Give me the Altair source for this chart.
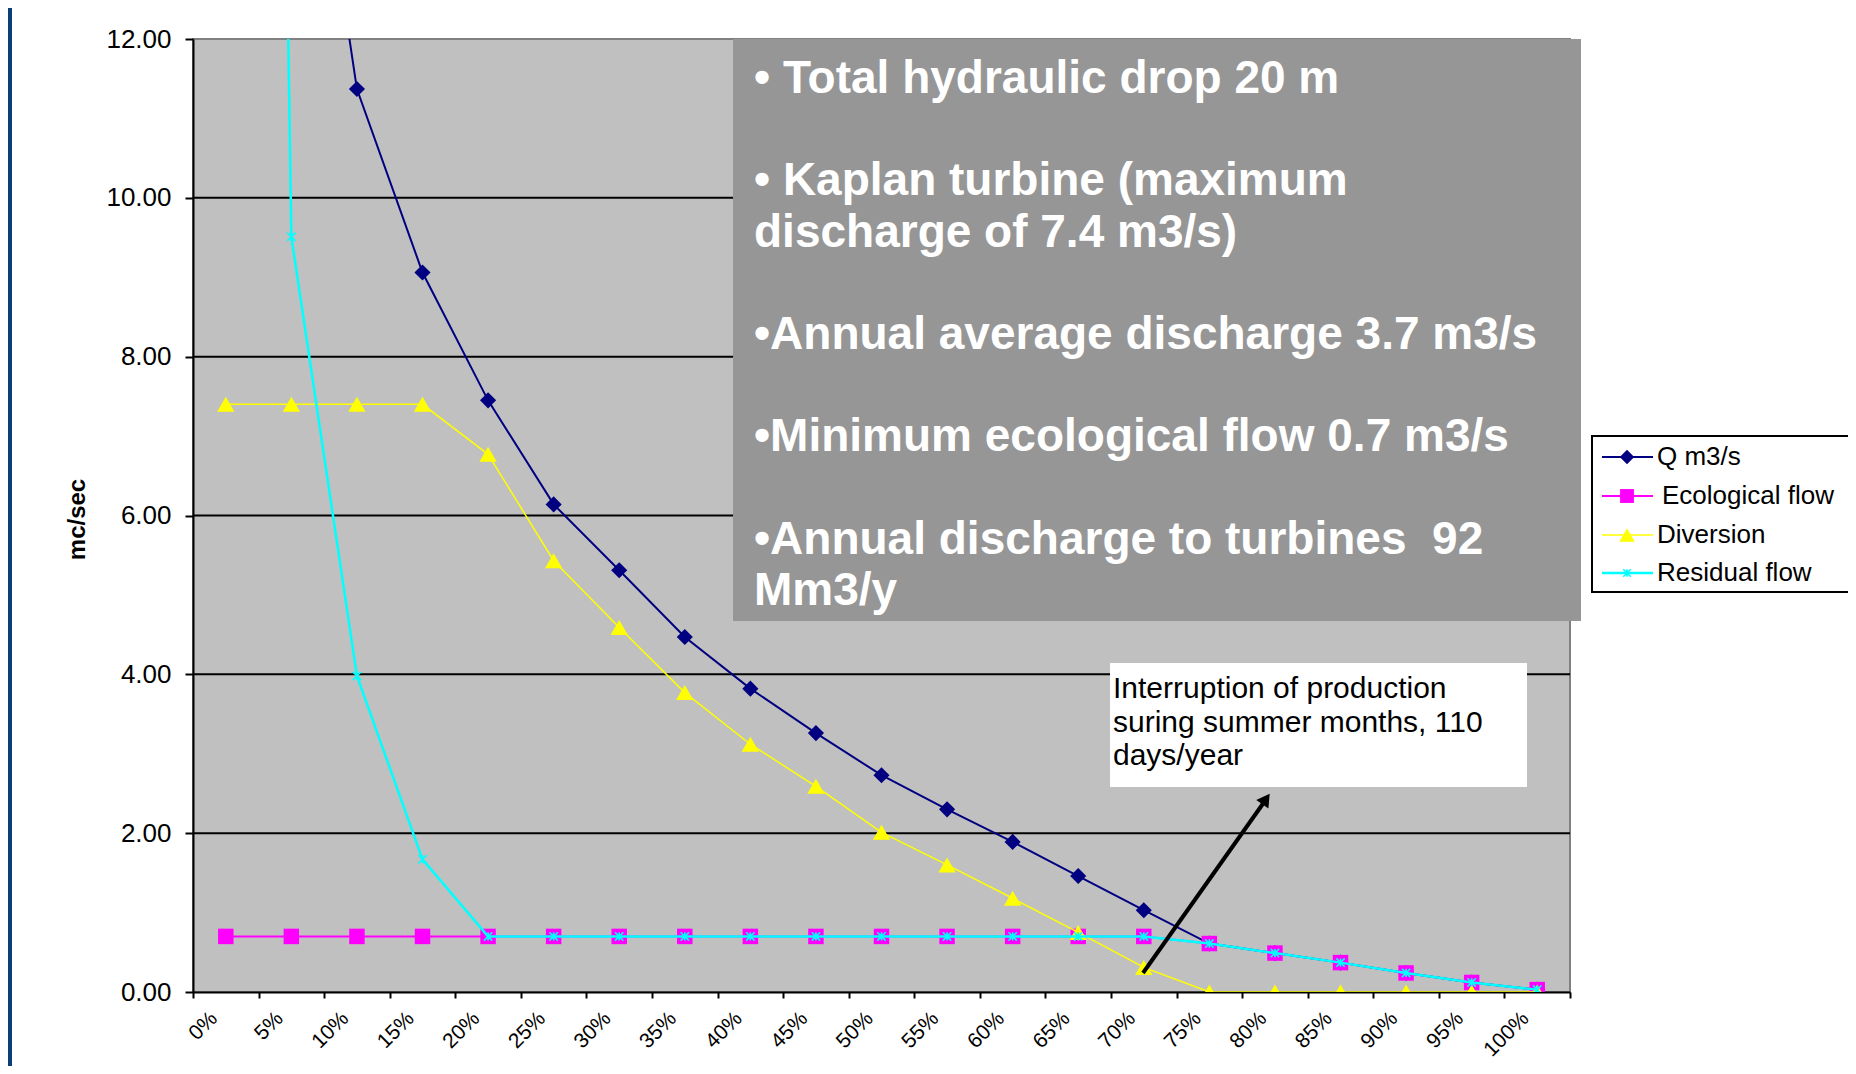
import altair as alt
import pandas as pd

# ---------------- data ----------------
categories = ["0%", "5%", "10%", "15%", "20%", "25%", "30%", "35%", "40%", "45%", "50%",
              "55%", "60%", "65%", "70%", "75%", "80%", "85%", "90%", "95%", "100%"]
q_flow = [70.0, 16.9, 11.37, 9.06, 7.45, 6.14, 5.31, 4.47, 3.82, 3.26, 2.73,
          2.30, 1.89, 1.46, 1.03, 0.61, 0.49, 0.37, 0.24, 0.12, 0.03]
ecological_flow = [0.7, 0.7, 0.7, 0.7, 0.7, 0.7, 0.7, 0.7, 0.7, 0.7, 0.7,
                   0.7, 0.7, 0.7, 0.7, 0.61, 0.49, 0.37, 0.24, 0.12, 0.03]
diversion = [7.4, 7.4, 7.4, 7.4, 6.77, 5.43, 4.59, 3.77, 3.12, 2.59, 2.01,
             1.60, 1.18, 0.75, 0.31, 0.0, 0.0, 0.0, 0.0, 0.0, 0.0]
residual_flow = [62.6, 9.51, 3.98, 1.67, 0.7, 0.7, 0.7, 0.7, 0.7, 0.7, 0.7,
                 0.7, 0.7, 0.7, 0.7, 0.61, 0.49, 0.37, 0.24, 0.12, 0.03]
series_names = ["Q m3/s", "Ecological flow", "Diversion", "Residual flow"]
y_ticks = [0, 2, 4, 6, 8, 10, 12]
y_title = "mc/sec"

info_lines = ["\u2022 Total hydraulic drop 20 m", "",
              "\u2022 Kaplan turbine (maximum", "discharge of 7.4 m3/s)", "",
              "\u2022Annual average discharge 3.7 m3/s", "",
              "\u2022Minimum ecological flow 0.7 m3/s", "",
              "\u2022Annual discharge to turbines \u00a092", "Mm3/y"]
note_lines = ["Interruption of production", "suring summer months, 110", "days/year"]

# ---------------- styles ----------------
FONT = "Liberation Sans, Arial, sans-serif"
STAR = "M-1,-1L1,1M1,-1L-1,1M0,-1L0,1"
styles = {
    "Q m3/s": dict(color="#000080", shape="diamond", size=260, width=2, filled=True),
    "Ecological flow": dict(color="#FF00FF", shape="square", size=240, width=2, filled=True),
    "Diversion": dict(color="#FFFF00", shape="triangle-up", size=300, width=1.5, filled=True),
    "Residual flow": dict(color="#00FFFF", shape=STAR, size=70, width=2.5, filled=False),
}

W, H = 1377, 953

series_values = [q_flow, ecological_flow, diversion, residual_flow]
rows = []
for name, vals in zip(series_names, series_values):
    for c, v in zip(categories, vals):
        rows.append({"category": c, "series": name, "value": v})
df = pd.DataFrame(rows)
one = pd.DataFrame({"k": [0]})
info_df = pd.DataFrame({"line": info_lines, "i": list(range(len(info_lines)))})

X = alt.X("category:N", sort=categories,
          scale=alt.Scale(type="band", domain=categories, paddingInner=0, paddingOuter=0),
          axis=alt.Axis(title=None, labelAngle=315, labelAlign="right", labelBaseline="middle",
                        labelFont=FONT, labelFontSize=21, labelColor="black",
                        labelPadding=17, labelOffset=-12, labelOverlap=False,
                        tickBand="extent", tickSize=6, tickColor="black", tickWidth=2,
                        domainColor="black", domainWidth=2, grid=False))
Y = alt.Y("value:Q", scale=alt.Scale(domain=[0, 12], nice=False, zero=True),
          axis=alt.Axis(values=y_ticks, format=".2f", title=y_title,
                        labelFont=FONT, labelFontSize=26, labelColor="black", labelPadding=14,
                        tickSize=8, tickColor="black", tickWidth=2,
                        domainColor="black", domainWidth=2, grid=False,
                        titleFont=FONT, titleFontSize=24, titleFontWeight="bold",
                        titleColor="black", titleAngle=270, titleX=-116, titleY=480,
                        titleAlign="center", titleBaseline="middle"))

layers = []

# gridlines (inner tick values)
grid = alt.Chart(pd.DataFrame({"value": y_ticks[1:-1]})).mark_rule(
    color="black", strokeWidth=2).encode(y=Y)
layers.append(grid)

# data series
for name in series_names:
    st = styles[name]
    base = alt.Chart(df).transform_filter(alt.datum.series == name)
    layers.append(base.mark_line(color=st["color"], strokeWidth=st["width"], clip=True)
                  .encode(x=X, y=Y))
    layers.append(base.mark_point(shape=st["shape"], size=st["size"], filled=st["filled"],
                                  color=st["color"], opacity=1, strokeWidth=1.6, clip=True)
                  .encode(x=X, y=Y))

# info box
layers.append(alt.Chart(one).mark_rect(fill="#969696").encode(
    x=alt.value(540), x2=alt.value(1388), y=alt.value(0), y2=alt.value(582)))
layers.append(alt.Chart(info_df).transform_filter(alt.datum.line != "")
              .transform_calculate(ypix="54 + datum.i * 51.2")
              .mark_text(align="left", baseline="alphabetic", font=FONT, fontSize=46,
                         fontWeight="bold", color="white")
              .encode(x=alt.value(561), y=alt.Y("ypix:Q", scale=None, axis=None),
                      text="line:N"))

# note box
layers.append(alt.Chart(one).mark_rect(fill="white").encode(
    x=alt.value(917), x2=alt.value(1334), y=alt.value(624), y2=alt.value(748)))
layers.append(alt.Chart(one).mark_text(
    text=note_lines, align="left", baseline="alphabetic", font=FONT, fontSize=30,
    color="black", lineHeight=33.5).encode(x=alt.value(920), y=alt.value(659)))

# arrow
layers.append(alt.Chart(one).mark_rule(color="black", strokeWidth=4).encode(
    x=alt.value(950), y=alt.value(934), x2=alt.value(1074), y2=alt.value(759)))
layers.append(alt.Chart(one).mark_point(shape="triangle-up", size=220, filled=True,
                                        color="black", opacity=1, angle=35).encode(
    x=alt.value(1073), y=alt.value(760)))

# legend
layers.append(alt.Chart(one).mark_rect(fill="white", stroke="black", strokeWidth=2).encode(
    x=alt.value(1399), x2=alt.value(1700), y=alt.value(397), y2=alt.value(553)))
legend_y = [418, 457, 496, 534]
for i, name in enumerate(series_names):
    st = styles[name]
    ly = legend_y[i]
    layers.append(alt.Chart(one).mark_rule(color=st["color"], strokeWidth=st["width"]).encode(
        x=alt.value(1409), x2=alt.value(1460), y=alt.value(ly)))
    layers.append(alt.Chart(one).mark_point(shape=st["shape"], size=st["size"] * 0.8,
                                            filled=st["filled"], color=st["color"], opacity=1,
                                            strokeWidth=1.6).encode(
        x=alt.value(1434), y=alt.value(ly)))
    layers.append(alt.Chart(one).mark_text(text=name, align="left", baseline="middle",
                                           font=FONT, fontSize=26, color="black").encode(
        x=alt.value(1464 + (5 if i == 1 else 0)), y=alt.value(ly)))

# slide background strip on the left
layers.append(alt.Chart(one).mark_rect(fill="#0b3d7a").encode(
    x=alt.value(-185), x2=alt.value(-181), y=alt.value(-31), y2=alt.value(H + 80)))

chart = alt.layer(*layers).properties(
    width=W, height=H,
    padding={"left": 185, "top": 31, "right": 278, "bottom": 74},
    autosize=alt.AutoSizeParams(type="none"),
    background="white",
).configure_view(fill="#C0C0C0", stroke="#808080", strokeWidth=2)

chart.save("out.html", embed_options={"renderer": "svg", "actions": False})
